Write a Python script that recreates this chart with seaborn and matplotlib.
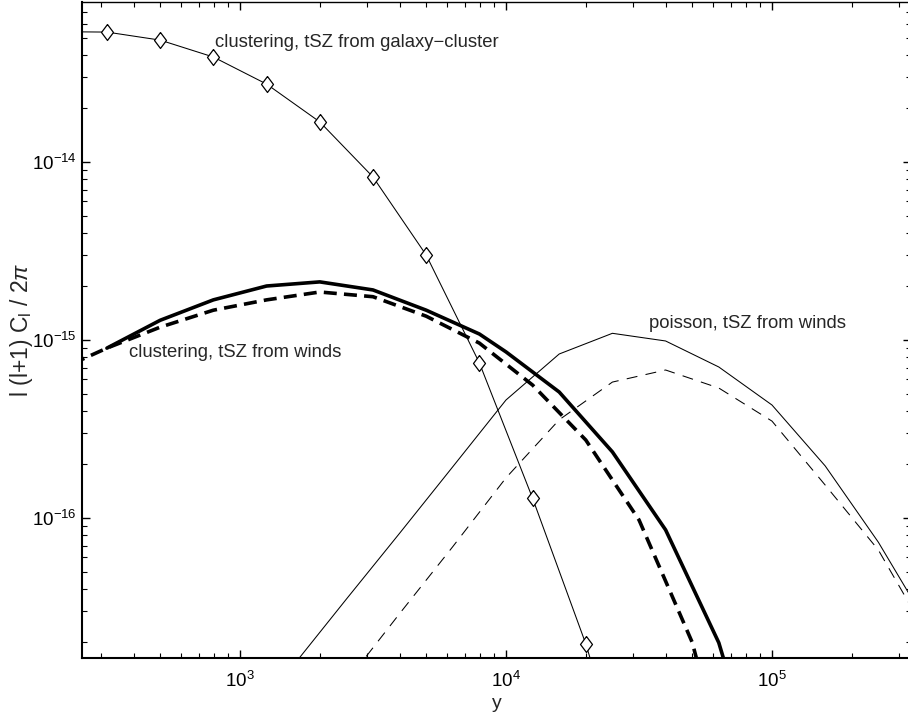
import numpy as np
import pandas as pd
import matplotlib
matplotlib.use("Agg")
import matplotlib.pyplot as plt
import seaborn as sns
from matplotlib.ticker import FixedLocator, LogLocator, LogFormatterMathtext, NullFormatter

# clustering, tSZ from galaxy-cluster (diamonds)
ell_gc = [200, 316, 501, 794, 1259, 1995, 3162, 5012, 7943, 12589, 19953, 31623]
cl_gc = [5.4e-14, 5.37e-14, 4.84e-14, 3.89e-14, 2.74e-14, 1.68e-14, 8.24e-15,
         3.0e-15, 7.43e-16, 1.29e-16, 1.96e-17, 2.0e-18]

# clustering, tSZ from winds (thick solid)
ell_cw = [316, 501, 794, 1259, 1995, 3162, 5012, 7943, 10000, 15849, 25119, 39811, 63096, 100000]
cl_cw = [9.0e-16, 1.29e-15, 1.68e-15, 2.01e-15, 2.12e-15, 1.91e-15, 1.47e-15,
         1.08e-15, 8.57e-16, 5.1e-16, 2.35e-16, 8.57e-17, 1.99e-17, 2.0e-18]

# clustering, tSZ from winds (thick dashed)
ell_cw2 = [200, 316, 501, 794, 1259, 1995, 3162, 5012, 7943, 12589, 19953, 31623, 50119, 79433]
cl_cw2 = [6.6e-16, 9.0e-16, 1.18e-15, 1.47e-15, 1.68e-15, 1.86e-15, 1.75e-15,
          1.36e-15, 9.6e-16, 5.58e-16, 2.74e-16, 9.75e-17, 2.0e-17, 1.5e-18]

# poisson, tSZ from winds (thin solid and thin dashed)
ell_pw = [1585, 2512, 3981, 6310, 10000, 15849, 25119, 39811, 63096, 100000, 158489, 251189, 398107]
cl_pw = [1.48e-17, 3.5e-17, 8.2e-17, 1.94e-16, 4.6e-16, 8.34e-16, 1.09e-15,
         9.87e-16, 7.05e-16, 4.31e-16, 1.96e-16, 7.3e-17, 2.3e-17]
cl_pw2 = [3.0e-18, 1.2e-17, 2.9e-17, 6.9e-17, 1.68e-16, 3.56e-16, 5.8e-16,
          6.78e-16, 5.37e-16, 3.5e-16, 1.53e-16, 6.6e-17, 2.0e-17]

x_major = [1e3, 1e4, 1e5]
y_major = [1e-16, 1e-15, 1e-14]

sns.set_style("ticks")
plt.rcParams["font.family"] = ["Liberation Sans", "DejaVu Sans"]
plt.rcParams["mathtext.fontset"] = "custom"
plt.rcParams["mathtext.rm"] = "Liberation Sans"
plt.rcParams["mathtext.it"] = "Liberation Sans:italic"
plt.rcParams["mathtext.cal"] = "Liberation Sans"

fig = plt.figure(figsize=(9.08, 7.21), dpi=100)
ax = fig.add_axes([82 / 908, 1 - 658 / 721, (911 - 82) / 908, 656 / 721])

diamond = [(0, 1), (0.75, 0), (0, -1), (-0.75, 0), (0, 1)]

df_gc = pd.DataFrame({"ell": ell_gc, "cl": cl_gc})
sns.lineplot(data=df_gc, x="ell", y="cl", ax=ax, color="black", lw=0.75,
             marker=diamond, markersize=11.5, markerfacecolor="white",
             markeredgecolor="black", markeredgewidth=0.9,
             sort=False, estimator=None)

df_cw = pd.DataFrame({"ell": ell_cw, "cl": cl_cw})
sns.lineplot(data=df_cw, x="ell", y="cl", ax=ax, color="black", lw=2.6,
             sort=False, estimator=None)

df_cw2 = pd.DataFrame({"ell": ell_cw2, "cl": cl_cw2})
sns.lineplot(data=df_cw2, x="ell", y="cl", ax=ax, color="black", lw=2.6,
             sort=False, estimator=None)
ax.lines[-1].set_dashes((3.6, 2.0))

df_pw = pd.DataFrame({"ell": ell_pw, "cl": cl_pw})
sns.lineplot(data=df_pw, x="ell", y="cl", ax=ax, color="black", lw=0.75,
             sort=False, estimator=None)

df_pw2 = pd.DataFrame({"ell": ell_pw, "cl": cl_pw2})
sns.lineplot(data=df_pw2, x="ell", y="cl", ax=ax, color="black", lw=0.75,
             sort=False, estimator=None)
ax.lines[-1].set_dashes((10.5, 8.0))

ax.set_xscale("log")
ax.set_yscale("log")
ax.set_xlim(10 ** 2.406, 10 ** 5.5226)
ax.set_ylim(10 ** -16.787, 10 ** -13.101)

ax.xaxis.set_major_locator(FixedLocator(x_major))
ax.yaxis.set_major_locator(FixedLocator(y_major))
for axis in (ax.xaxis, ax.yaxis):
    axis.set_minor_locator(LogLocator(base=10, subs=np.arange(2, 10)))
    axis.set_major_formatter(LogFormatterMathtext())
    axis.set_minor_formatter(NullFormatter())

ax.tick_params(which="both", direction="in", top=True, right=True,
               color="black", labelsize=13.5, labelcolor="black")
ax.tick_params(which="major", length=6, width=1.0)
ax.tick_params(which="minor", length=3.5, width=0.8)
ax.tick_params(axis="x", which="major", pad=9)
ax.tick_params(axis="y", which="major", pad=4)
for side in ("left", "bottom"):
    ax.spines[side].set_linewidth(1.5)
for side in ("top", "right"):
    ax.spines[side].set_linewidth(1.0)
for s in ax.spines.values():
    s.set_color("black")

ax.set_xlabel("y", fontsize=14, labelpad=3)
ax.set_ylabel("l (l+1) C$_\\mathrm{l}$ / 2$\\pi$", fontsize=16.5)
ax.yaxis.set_label_coords(-0.057, 0.5)

ax.text(805, 4.67e-14, "clustering, tSZ from galaxy\u2212cluster", fontsize=13.3, va="center")
ax.text(383, 8.45e-16, "clustering, tSZ from winds", fontsize=13.3, va="center")
ax.text(34500, 1.23e-15, "poisson, tSZ from winds", fontsize=13.3, va="center")

fig.savefig("out.png", dpi=100)
